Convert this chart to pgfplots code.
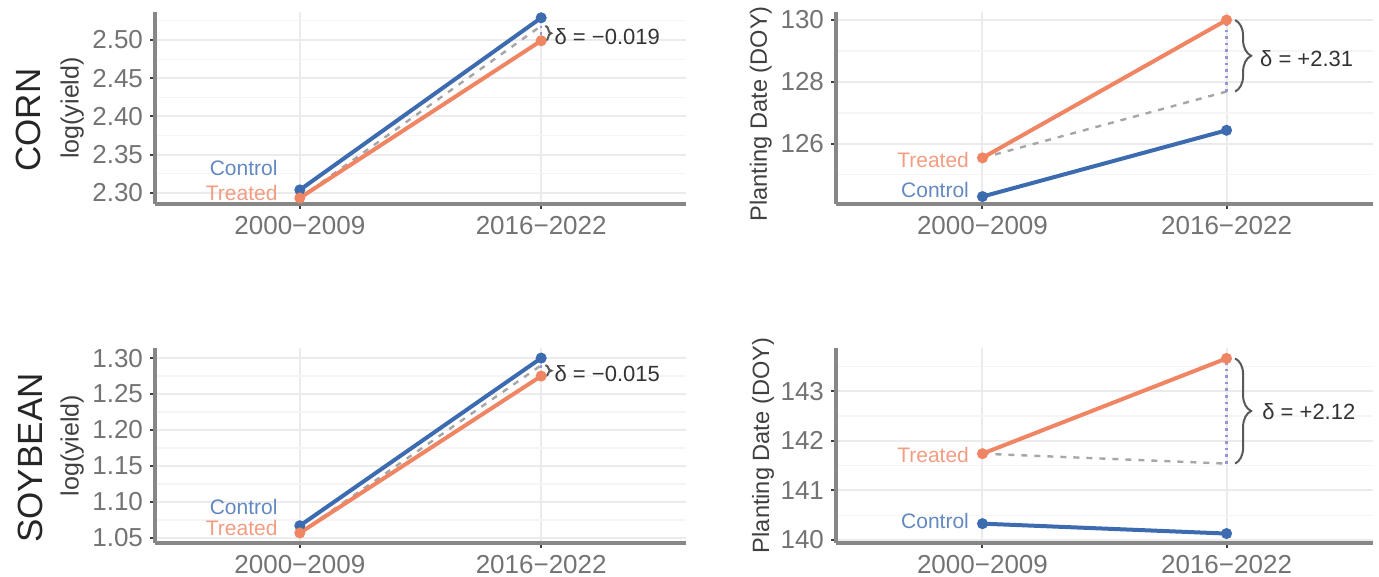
\documentclass[border=0pt]{standalone}
\usepackage{fontspec}
\setmainfont{Liberation Sans}
\usepackage{pgfplots}
\pgfplotsset{compat=1.18}
\usetikzlibrary{decorations.pathreplacing}
\definecolor{ctrl}{RGB}{60,107,176}
\definecolor{trt}{RGB}{239,133,99}
\definecolor{cfl}{RGB}{150,150,215}
\definecolor{axgray}{RGB}{135,135,135}
\pgfplotsset{
  panel/.style={
    scale only axis, anchor=south west, clip=false,
    axis x line*=bottom, axis y line*=left,
    axis line style={draw=axgray, line width=2.2pt, -},
    xmin=-0.6, xmax=1.6,
    xtick={0,1}, xticklabels={2000−2009,2016−2022},
    tick align=outside, major tick length=2.5pt, minor tick length=0pt,
    tick style={draw=black!75, line width=1pt},
    grid=both,
    major grid style={draw=black!8, line width=1pt},
    minor grid style={draw=black!4, line width=0.6pt},
    ticklabel style={font=\fontsize{13}{15}\selectfont, text=black!55},
    /pgf/number format/assume math mode=true,
    ylabel style={font=\fontsize{12.5}{15}\selectfont, text=black!75, anchor=center},
  },
  ctrlline/.style={ctrl, line width=2pt, mark=*, mark size=1.7pt, mark options={solid}},
  trtline/.style={trt, line width=2pt, mark=*, mark size=1.7pt, mark options={solid}},
  cfdash/.style={black!35, line width=1.2pt, dash pattern=on 3pt off 3.5pt},
  cfdot/.style={cfl, line width=1.3pt, dash pattern=on 1.3pt off 2pt},
}
\tikzset{
  lab/.style={anchor=east, inner sep=0pt, font=\fontsize{10.5}{12}\selectfont},
  dlab/.style={anchor=west, inner sep=0pt, font=\fontsize{11}{13}\selectfont, text=black!80},
  br/.style={draw=black!65, line width=1pt, decorate, decoration={brace, amplitude=#1}},
}
\begin{document}
\begin{tikzpicture}
\useasboundingbox (0,0) rectangle (689.5pt,288.5pt);
\node[rotate=90, font=\fontsize{17.5}{20}\selectfont, text=black!85] at (14pt,228.5pt) {CORN};
\node[rotate=90, font=\fontsize{17.5}{20}\selectfont, text=black!85] at (15pt,59.5pt) {SOYBEAN};

% Corn yield
\begin{axis}[panel, at={(77.5pt,186.5pt)}, width=265.5pt, height=96pt,
  ymin=2.2856, ymax=2.5366,
  ytick={2.30,2.35,2.40,2.45,2.50}, minor ytick={2.325,2.375,2.425,2.475,2.525},
  yticklabel style={/pgf/number format/.cd, fixed, fixed zerofill, precision=2},
  ylabel={log(yield)}, ylabel style={at={(axis description cs:-0.156,0.5)}}]
\addplot[cfdash] coordinates {(0,2.2935) (1,2.5185)};
\addplot[ctrlline] coordinates {(0,2.304) (1,2.529)};
\addplot[trtline] coordinates {(0,2.2935) (1,2.499)};
\addplot[cfdot] coordinates {(1,2.5185) (1,2.499)};
\draw[br=3pt] (axis cs:1.017,2.5185) -- (axis cs:1.017,2.499);
\node[lab, text=ctrl!80!white] at (axis cs:-0.091,2.3327) {Control};
\node[lab, text=trt!80!white] at (axis cs:-0.091,2.300) {Treated};
\node[dlab] at (axis cs:1.054,2.504) {δ = −0.019};
\end{axis}

% Corn planting date
\begin{axis}[panel, at={(418pt,186.5pt)}, width=268.5pt, height=96pt,
  ymin=124.06, ymax=130.26,
  ytick={126,128,130}, minor ytick={125,127,129},
  ylabel={Planting Date (DOY)},
  ylabel style={font=\fontsize{11.8}{14}\selectfont, at={(axis description cs:-0.140,0.47)}}]
\addplot[cfdash] coordinates {(0,125.55) (1,127.69)};
\addplot[ctrlline] coordinates {(0,124.30) (1,126.44)};
\addplot[trtline] coordinates {(0,125.55) (1,130.00)};
\addplot[cfdot] coordinates {(1,127.69) (1,130.00)};
\draw[br=8pt] (axis cs:1.035,130.00) -- (axis cs:1.035,127.69);
\node[lab, text=trt!80!white] at (axis cs:-0.054,125.48) {Treated};
\node[lab, text=ctrl!80!white] at (axis cs:-0.054,124.52) {Control};
\node[dlab] at (axis cs:1.136,128.74) {δ = +2.31};
\end{axis}

% Soybean yield
\begin{axis}[panel, at={(77.5pt,17pt)}, width=265.5pt, height=97.5pt,
  ymin=1.043, ymax=1.314,
  ytick={1.05,1.10,1.15,1.20,1.25,1.30}, minor ytick={1.075,1.125,1.175,1.225,1.275},
  yticklabel style={/pgf/number format/.cd, fixed, fixed zerofill, precision=2},
  ylabel={log(yield)}, ylabel style={at={(axis description cs:-0.156,0.5)}}]
\addplot[cfdash] coordinates {(0,1.057) (1,1.290)};
\addplot[ctrlline] coordinates {(0,1.067) (1,1.300)};
\addplot[trtline] coordinates {(0,1.057) (1,1.275)};
\addplot[cfdot] coordinates {(1,1.290) (1,1.275)};
\draw[br=3pt] (axis cs:1.017,1.290) -- (axis cs:1.017,1.275);
\node[lab, text=ctrl!80!white] at (axis cs:-0.091,1.093) {Control};
\node[lab, text=trt!80!white] at (axis cs:-0.091,1.064) {Treated};
\node[dlab] at (axis cs:1.054,1.279) {δ = −0.015};
\end{axis}

% Soybean planting date
\begin{axis}[panel, at={(418pt,17pt)}, width=268.5pt, height=97.5pt,
  ymin=139.94, ymax=143.87,
  ytick={140,141,142,143}, minor ytick={140.5,141.5,142.5,143.5},
  ylabel={Planting Date (DOY)},
  ylabel style={font=\fontsize{11.8}{14}\selectfont, at={(axis description cs:-0.136,0.5)}}]
\addplot[cfdash] coordinates {(0,141.74) (1,141.54)};
\addplot[ctrlline] coordinates {(0,140.33) (1,140.13)};
\addplot[trtline] coordinates {(0,141.74) (1,143.66)};
\addplot[cfdot] coordinates {(1,141.54) (1,143.66)};
\draw[br=8pt] (axis cs:1.035,143.66) -- (axis cs:1.035,141.54);
\node[lab, text=trt!80!white] at (axis cs:-0.054,141.72) {Treated};
\node[lab, text=ctrl!80!white] at (axis cs:-0.054,140.38) {Control};
\node[dlab] at (axis cs:1.145,142.58) {δ = +2.12};
\end{axis}
\end{tikzpicture}
\end{document}
